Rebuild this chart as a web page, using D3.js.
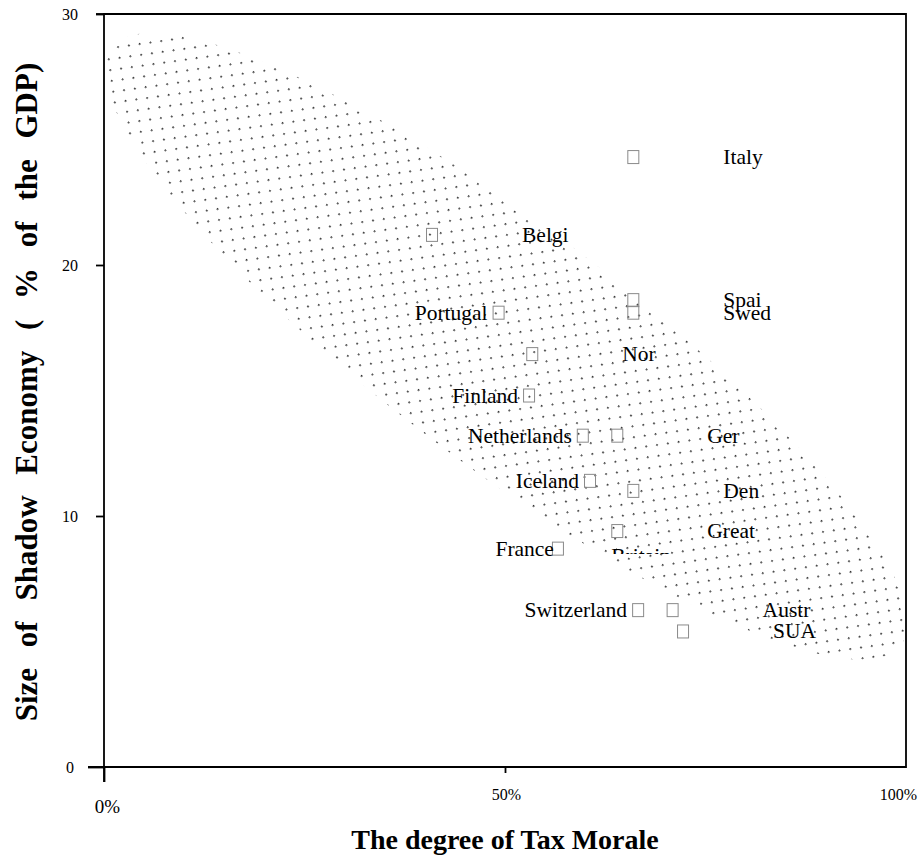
<!DOCTYPE html>
<html>
<head>
<meta charset="utf-8">
<script src="https://cdnjs.cloudflare.com/ajax/libs/d3/7.8.5/d3.min.js"></script>
<style>
  html, body { margin: 0; padding: 0; background: #fff; }
  svg { display: block; }
  text { font-family: "Liberation Serif", "Times New Roman", serif; fill: #000; }
</style>
</head>
<body>
<svg id="chart" width="918" height="865"></svg>
<script>
// ---- data ----
const countries = ["Italy", "Belgi", "Portugal", "Spai", "Swed", "Nor", "Finland", "Netherlands",
                   "Ger", "Iceland", "Den", "Great", "France", "Switzerland", "Austr", "SUA"];
const taxMorale = [66.0, 40.9, 49.2, 66.0, 66.0, 53.4, 53.0, 59.7,
                   64.0, 60.6, 66.0, 64.0, 56.6, 66.6, 70.9, 72.2];
const shadowEconomy = [24.3, 21.2, 18.1, 18.6, 18.1, 16.45, 14.8, 13.2,
                       13.2, 11.4, 11.0, 9.4, 8.7, 6.25, 6.25, 5.4];
const labelSide = ["right", "right", "left", "right", "right", "right", "left", "left",
                   "right", "left", "right", "right", "leftTight", "left", "right", "right"];
const yTicks = [0, 10, 20, 30];
const xTicks = [0, 50, 100];
const xTickLabels = ["0%", "50%", "100%"];
const xTitle = "The degree of Tax Morale";
const yTitle = "Size of Shadow Economy ( % of the GDP)";
const secondLine = { index: 11, text: "Britain" };
// shaded band (ellipse) centre in data units
const bandCenter = { x: 50.15, y: 16.76 };

// ---- layout ----
const svg = d3.select("#chart");
const L = 104, R = 906, T = 14, B = 767;
const x = d3.scaleLinear().domain([0, 100]).range([L, R]);
const y = d3.scaleLinear().domain([0, 30]).range([B, T]);

const defs = svg.append("defs");
const pat = defs.append("pattern").attr("id", "dots")
  .attr("patternUnits", "userSpaceOnUse")
  .attr("width", 15.4).attr("height", 15.4)
  .attr("x", 1.8).attr("y", 9.9);
pat.append("rect").attr("x", 0).attr("y", 0).attr("width", 1.7).attr("height", 1.7).attr("fill", "#333");
pat.append("rect").attr("x", 7.7).attr("y", 7.7).attr("width", 1.7).attr("height", 1.7).attr("fill", "#333");
defs.append("clipPath").attr("id", "plotClip").append("rect")
  .attr("x", L).attr("y", T).attr("width", R - L).attr("height", B - T);

// dotted band
svg.append("g").attr("clip-path", "url(#plotClip)")
  .append("ellipse")
  .attr("transform", `translate(${x(bandCenter.x)},${y(bandCenter.y)}) rotate(37.1)`)
  .attr("rx", 495).attr("ry", 119)
  .attr("fill", "url(#dots)");

// axes
const yAxis = d3.axisLeft(y).tickValues(yTicks).tickSizeOuter(0).tickFormat(d3.format("d"));
const gy = svg.append("g").attr("transform", `translate(${L},0)`).call(yAxis);
gy.select(".domain").remove();
gy.selectAll(".tick line").attr("x2", d => d === 0 ? -16 : -8).attr("stroke", "#000").attr("stroke-width", 1.8);
gy.selectAll(".tick text").attr("x", -34).attr("text-anchor", "middle").attr("dy", "0.34em")
  .style("font-family", "Liberation Serif").style("font-size", "16px");

const xAxis = d3.axisBottom(x).tickValues(xTicks).tickSizeOuter(0).tickFormat((d, i) => xTickLabels[i]);
const gx = svg.append("g").attr("transform", `translate(0,${B})`).call(xAxis);
gx.select(".domain").remove();
gx.selectAll(".tick line").attr("y2", d => d === 0 ? 15 : (d === 50 ? 6 : 0)).attr("stroke", "#000").attr("stroke-width", 1.8);
gx.selectAll(".tick text")
  .attr("y", d => d === 0 ? 46 : 33)
  .attr("x", d => d === 0 ? 3 : (d === 100 ? -8 : 1))
  .attr("dy", 0)
  .style("font-family", "Liberation Serif").style("font-size", d => d === 0 ? "19px" : "16px");

// frame
svg.append("path")
  .attr("d", `M${L - 16},${B}H${R}V${T}H${L}V${B + 15}`)
  .attr("fill", "none").attr("stroke", "#000").attr("stroke-width", 1.8);
svg.append("line").attr("x1", L - 8).attr("x2", L).attr("y1", T).attr("y2", T)
  .attr("stroke", "#000").attr("stroke-width", 1.8);

// markers
const pts = countries.map((c, i) => ({ c, xv: taxMorale[i], yv: shadowEconomy[i], side: labelSide[i] }));
svg.append("g").selectAll("rect").data(pts).join("rect")
  .attr("x", d => x(d.xv) - 5.5).attr("y", d => y(d.yv) - 6.5)
  .attr("width", 11).attr("height", 13)
  .attr("fill", "none").attr("stroke", "#8a8a8a").attr("stroke-width", 1);

// labels
svg.append("g").selectAll("text").data(pts).join("text")
  .attr("x", d => d.side === "right" ? x(d.xv) + 90 : (d.side === "left" ? x(d.xv) - 11 : x(d.xv) - 4))
  .attr("y", d => y(d.yv) + 7)
  .attr("text-anchor", d => d.side === "right" ? "start" : "end")
  .style("font-size", "21.5px")
  .text(d => d.c);

// partially hidden second line for Great Britain
const gb = pts[secondLine.index];
defs.append("clipPath").attr("id", "gbClip").append("rect")
  .attr("x", x(gb.xv) - 20).attr("y", y(gb.yv) + 14).attr("width", 140).attr("height", 9);
svg.append("text")
  .attr("clip-path", "url(#gbClip)")
  .attr("x", x(gb.xv) - 6).attr("y", y(gb.yv) + 32)
  .style("font-size", "21.5px")
  .text(secondLine.text);

// titles
svg.append("text")
  .attr("x", 505).attr("y", 849)
  .attr("text-anchor", "middle")
  .style("font-size", "28px").style("font-weight", "bold")
  .text(xTitle);

svg.append("text")
  .attr("transform", "translate(37,392) rotate(-90)")
  .attr("text-anchor", "middle")
  .style("font-size", "31px").style("font-weight", "bold")
  .style("word-spacing", "13px")
  .text(yTitle);
</script>
</body>
</html>
